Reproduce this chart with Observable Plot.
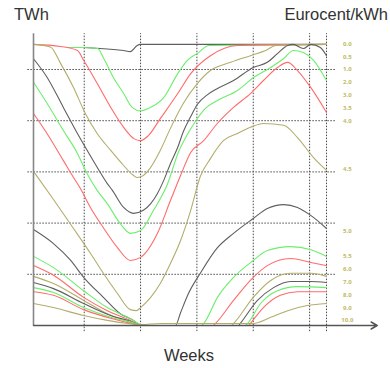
<!DOCTYPE html>
<html>
<head>
<meta charset="utf-8">
<script src="https://cdn.jsdelivr.net/npm/d3@7"></script>
<script src="https://cdn.jsdelivr.net/npm/@observablehq/plot@0.6"></script>
<style>
  html, body { margin: 0; padding: 0; background: #fff; }
  #chart { width: 390px; height: 368px; overflow: hidden; }
</style>
</head>
<body>
<div id="chart"></div>
<script>
// Grid positions
const weeksGrid = [10, 20, 30, 40, 50, 53];
const twhGrid = [10, 20, 30, 40, 50];

// Water-value labels (Eurocent/kWh) and their vertical position (TWh)
const priceLabels = ["0.0","0.5","1.0","2.0","3.0","3.5","4.0","4.5","5.0","5.5","6.0","7.0","8.0","9.0","10.0"];
const labelTWh = [55, 52.5, 50, 47.5, 45, 42.5, 40, 30.5, 18.5, 13.5, 11, 8.5, 6, 3.5, 1];

// Curves: [week, TWh]
const curveA = [[10,54.3],[17,53.7],[18.2,53.5],[19.4,54.7],[20,54.9],[53,54.9]];
const curveB = [[7,54.3],[9.3,54.3],[12.4,54.1],[13.4,52.3],[15.2,48.4],[17,45.3],[18.5,42.6],[20,41.9],[21.4,42.4],[24.1,44.5],[26.6,49.2],[28.3,51.8],[30.3,53.3],[32.1,54.7],[53,54.9]];
const curveC = [[1,54.9],[5.8,54.5],[8.8,53.7],[9.9,51.8],[12.3,47.3],[14.7,42.6],[17,38.7],[18.8,36.5],[20,36.1],[21.4,37.1],[23.5,40.4],[26.6,45.3],[28.9,49.2],[32.4,52.7],[37.2,54.7],[53,54.9]];
const curveD = [[1,54.9],[4.0,54.4],[5.8,51.2],[8.1,46.5],[10.2,41.4],[12.3,37.5],[14.7,34.2],[17,31.25],[18.75,29.3],[19.4,28.9],[20.5,29.3],[21.4,30.3],[23.5,34.2],[25.3,38.5],[27.6,43.4],[30.1,47.3],[32.4,49.8],[36,51.4],[39.5,52.7],[42.2,53.7],[44,54.7],[53,54.9]];
const curveE = [[1,52.1],[3.4,48.5],[6.3,42.6],[8.8,37.5],[10.2,34.8],[12.3,30.9],[14.1,27.7],[15,26.4],[17,23.05],[18.75,21.9],[20.5,22.5],[21.8,23.8],[23,25.8],[24.1,28.3],[25.3,31.6],[26.6,34.8],[27.6,37.9],[28.9,40.8],[30.1,43.2],[31.9,45.1],[33.65,46.3],[36.5,47.85],[40,50.4],[42.5,51.4],[44.3,53.1],[46.1,54.7],[47.1,54.9],[48.9,54.1],[50.2,54.9],[51.9,54.3],[53,52.7]];
const curveF = [[1,47.5],[3.4,43.4],[6.3,38.1],[8.8,33.6],[10.5,29.7],[12.3,26.4],[14.1,23.8],[16.4,19.9],[18.2,18.0],[20,18.55],[22.3,22.5],[24.8,27.7],[26.7,33.8],[28.1,36.9],[29.7,39.8],[31.5,42.4],[33.65,43.95],[37.2,45.9],[40,48.4],[43.1,50.4],[45.4,52.15],[47.1,53.7],[48.9,53.3],[50.7,51.8],[53,47.85]];
const curveG = [[1,41.4],[3.4,37.5],[6.3,32.2],[8.1,28.9],[9.3,26.8],[11.1,23.05],[13.4,19.1],[15.9,15.2],[18.2,12.7],[20,13.3],[23,18.0],[25.3,24.4],[27.1,29.3],[28.9,33.8],[31.2,36.1],[33.65,39.5],[36.5,42.6],[39.5,45.3],[41.8,47.85],[44.3,50.4],[46.1,51.4],[47.85,49.8],[50.2,46.5],[53,41.6]];
const curveH = [[1,30.1],[4.55,24.6],[8.1,18.95],[11.1,14.1],[13.4,10.2],[15.9,6.25],[18.2,3.1],[19.3,2.9],[20,3.5],[21.8,5.5],[23.5,8.2],[25.3,12.1],[27.1,16.6],[28.9,22.5],[30.6,29.1],[32.4,32.6],[34.7,36.1],[37.2,37.5],[39.5,38.7],[41.8,39.45],[45.4,39.1],[47.85,36.7],[50.7,32.8],[53,30.3]];
const curveI = [[1,18.75],[4.55,16.0],[7.6,12.7],[9.9,9.4],[13.4,5.5],[16.4,2.3],[18.75,1.0],[20,0],[26.2,0],[27.1,2.5],[28.5,6.25],[30.6,10.2],[33.65,15.2],[36.5,18.0],[40,20.9],[42.5,22.85],[45.4,23.6],[47.85,23.05],[50.2,21.5],[53,18.95]];
const curveJ = [[1,13.5],[4.55,11.3],[9.9,6.8],[14.1,3.5],[17.7,1.6],[19.6,0.4],[20.2,0],[30.8,0],[31.2,0.4],[33.65,5.5],[36.5,9.4],[40,12.7],[42.5,14.65],[46.6,15.4],[50.2,14.8],[53,13.5]];
const curveK = [[1,11.7],[4.55,9.8],[9.9,5.5],[14.1,2.9],[18.2,1.0],[20,0],[32.9,0],[33.3,0.4],[36.5,4.9],[40,9.4],[42.5,11.7],[46.6,13.1],[50.2,12.3],[53,11.7]];
const curveL = [[1,9.6],[4.55,8.2],[9.9,4.9],[14.1,2.3],[18.2,0.6],[20,0],[36.1,0],[36.5,0.4],[40,5.5],[43.1,8.8],[46.6,10.2],[50.2,10.2],[53,9.6]];
const curveM = [[1,8.4],[4.55,7.2],[9.9,4.3],[14.7,1.95],[18.75,0.6],[20,0],[37.4,0],[37.7,0.4],[40.75,4.9],[43.6,7.4],[46.6,8.6],[50.2,8.6],[53,8.4]];
const curveN = [[1,7.4],[4.55,6.45],[9.9,3.5],[14.7,1.6],[19.1,0.4],[20,0],[38.6,0],[39,0.4],[41.3,4.3],[44.3,6.8],[47.85,7.6],[53,7.4]];
const curveO = [[1,6.6],[4.55,5.9],[9.9,3.1],[14.7,1.4],[19.1,0.2],[20,0],[39.2,0],[39.5,0.4],[41.8,3.5],[44.8,5.9],[47.85,6.6],[53,6.6]];
const curveP = [[1,4.3],[4.55,3.5],[9.9,1.95],[14.1,1.0],[17.7,0.4],[20,0.2],[23.5,0.4],[40,0.4],[43.1,1.6],[46.1,2.9],[49.6,3.9],[53,4.3]];

const series = [curveA,curveB,curveC,curveD,curveE,curveF,curveG,curveH,curveI,curveJ,curveK,curveL,curveM,curveN,curveO,curveP];
const colorCycle = ["gray","green","red","olive"];
const palette = {gray: "#5f5f5f", green: "#6cee6c", red: "#ff6b6b", olive: "#b3ad6c"};

const rows = series.flatMap((pts, i) =>
  pts.map(([w, t]) => ({w, t, id: i, c: colorCycle[i % 4]})));

const labels = priceLabels.map((p, i) => ({p, t: labelTWh[i]}));

const svg = Plot.plot({
  width: 390,
  height: 368,
  x: {domain: [1, 53], range: [33, 326], axis: null},
  y: {domain: [0, 55], range: [325, 43.4], axis: null},
  style: {background: "#fff"},
  marks: [
    Plot.ruleY(twhGrid, {x1: 0, x2: 54.8, stroke: "#4a4a4a", strokeDasharray: "1.5,1.5", strokeWidth: 1}),
    Plot.ruleX(weeksGrid, {y1: -1.2, y2: 57, stroke: "#4a4a4a", strokeDasharray: "1.5,1.5", strokeWidth: 1}),
    Plot.line(rows, {x: "w", y: "t", z: "id", stroke: d => palette[d.c], curve: "monotone-x", strokeWidth: 1.1}),
    Plot.ruleX([1], {y1: 0, y2: 57, stroke: "#888", strokeWidth: 1.6}),
    Plot.arrow([{x1: 1, x2: 62, y: 0}], {x1: "x1", x2: "x2", y1: "y", y2: "y", stroke: "#555", strokeWidth: 1.5, headLength: 7}),
    Plot.text(labels, {x: 56.7, y: "t", text: "p", fontSize: 6, fontWeight: "bold", fill: "#c2ba62", textAnchor: "middle"})
  ]
});

const s = d3.select(svg);
const font = "'Liberation Sans', Arial, sans-serif";
s.append("text").attr("x", 14).attr("y", 20).attr("fill", "#333").attr("text-anchor", "start")
  .style("font-family", font).style("font-size", "16.5px").text("TWh");
s.append("text").attr("x", 388).attr("y", 20).attr("fill", "#333").attr("text-anchor", "end")
  .style("font-family", font).style("font-size", "16.5px").text("Eurocent/kWh");
s.append("text").attr("x", 189).attr("y", 361).attr("fill", "#333").attr("text-anchor", "middle")
  .style("font-family", font).style("font-size", "16.5px").text("Weeks");

document.getElementById("chart").appendChild(svg);
</script>
</body>
</html>
